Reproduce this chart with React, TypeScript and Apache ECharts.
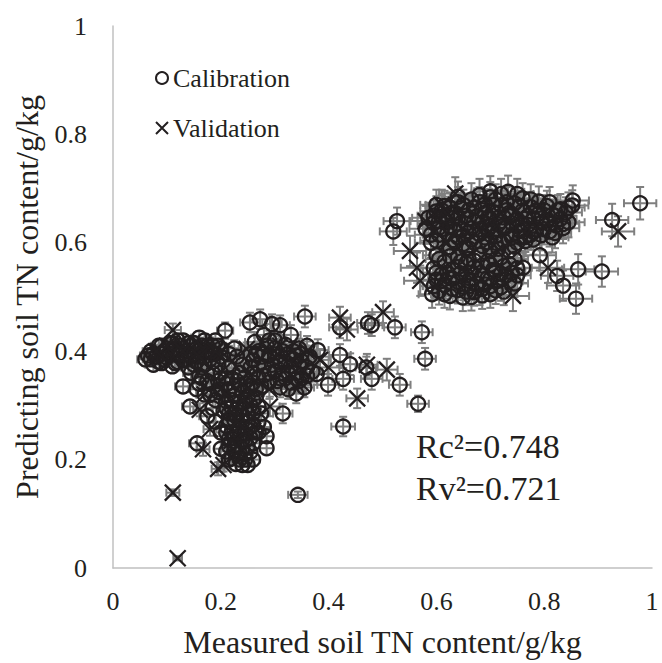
import React, { useEffect, useRef } from "react";
import * as echarts from "echarts";

// [measured, predicted, xError, yError]
const calibrationUpper: number[][] = [
  [0.733, 0.694, 0.03, 0.03], [0.70, 0.684, 0.03, 0.028], [0.665, 0.680, 0.03, 0.03], [0.76, 0.682, 0.03, 0.028],
  [0.79, 0.676, 0.03, 0.028], [0.853, 0.678, 0.03, 0.028], [0.852, 0.669, 0.03, 0.028], [0.64, 0.675, 0.03, 0.028],
  [0.68, 0.688, 0.03, 0.03], [0.615, 0.668, 0.03, 0.028], [0.645, 0.664, 0.03, 0.028], [0.69, 0.671, 0.03, 0.028],
  [0.72, 0.669, 0.03, 0.028], [0.745, 0.673, 0.03, 0.028], [0.775, 0.666, 0.03, 0.028], [0.805, 0.668, 0.03, 0.028],
  [0.83, 0.662, 0.03, 0.028], [0.60, 0.658, 0.03, 0.028], [0.628, 0.655, 0.03, 0.028], [0.66, 0.66, 0.03, 0.028],
  [0.705, 0.657, 0.03, 0.028], [0.735, 0.655, 0.03, 0.028], [0.76, 0.659, 0.03, 0.028], [0.79, 0.654, 0.03, 0.028],
  [0.815, 0.652, 0.03, 0.028], [0.84, 0.656, 0.03, 0.028], [0.585, 0.646, 0.03, 0.028], [0.612, 0.648, 0.03, 0.028],
  [0.64, 0.645, 0.03, 0.028], [0.675, 0.649, 0.03, 0.028], [0.70, 0.644, 0.03, 0.028], [0.725, 0.647, 0.03, 0.028],
  [0.75, 0.643, 0.03, 0.028], [0.78, 0.645, 0.03, 0.028], [0.805, 0.641, 0.03, 0.028], [0.83, 0.644, 0.03, 0.028],
  [0.527, 0.640, 0.025, 0.025], [0.595, 0.636, 0.03, 0.028], [0.62, 0.638, 0.03, 0.028], [0.655, 0.635, 0.03, 0.028],
  [0.685, 0.637, 0.03, 0.028], [0.715, 0.634, 0.03, 0.028], [0.74, 0.636, 0.03, 0.028], [0.77, 0.633, 0.03, 0.028],
  [0.795, 0.637, 0.03, 0.028], [0.822, 0.632, 0.03, 0.028], [0.845, 0.638, 0.03, 0.028], [0.58, 0.626, 0.03, 0.028],
  [0.605, 0.628, 0.03, 0.028], [0.635, 0.624, 0.03, 0.028], [0.665, 0.627, 0.03, 0.028], [0.695, 0.623, 0.03, 0.028],
  [0.725, 0.626, 0.03, 0.028], [0.755, 0.622, 0.03, 0.028], [0.785, 0.625, 0.03, 0.028], [0.81, 0.621, 0.03, 0.028],
  [0.835, 0.627, 0.03, 0.028], [0.52, 0.621, 0.025, 0.025], [0.59, 0.615, 0.03, 0.028], [0.62, 0.617, 0.03, 0.028],
  [0.65, 0.613, 0.03, 0.028], [0.68, 0.616, 0.03, 0.028], [0.71, 0.612, 0.03, 0.028], [0.74, 0.615, 0.03, 0.028],
  [0.765, 0.611, 0.03, 0.028], [0.795, 0.614, 0.03, 0.028], [0.82, 0.618, 0.03, 0.028], [0.60, 0.604, 0.03, 0.028],
  [0.635, 0.602, 0.03, 0.028], [0.665, 0.606, 0.03, 0.028], [0.695, 0.601, 0.03, 0.028], [0.725, 0.604, 0.03, 0.028],
  [0.75, 0.600, 0.03, 0.028], [0.78, 0.606, 0.03, 0.028], [0.625, 0.592, 0.03, 0.028], [0.655, 0.59, 0.03, 0.028],
  [0.685, 0.594, 0.03, 0.028], [0.715, 0.589, 0.03, 0.028], [0.745, 0.593, 0.03, 0.028], [0.765, 0.603, 0.03, 0.028],
  [0.61, 0.66, 0.03, 0.028], [0.65, 0.67, 0.03, 0.028], [0.71, 0.68, 0.03, 0.028], [0.73, 0.66, 0.03, 0.028],
  [0.77, 0.65, 0.03, 0.028], [0.80, 0.66, 0.03, 0.028], [0.63, 0.645, 0.03, 0.028], [0.69, 0.655, 0.03, 0.028],
  [0.75, 0.63, 0.03, 0.028], [0.72, 0.64, 0.03, 0.028], [0.66, 0.62, 0.03, 0.028], [0.70, 0.63, 0.03, 0.028],
  [0.78, 0.62, 0.03, 0.028], [0.64, 0.61, 0.03, 0.028], [0.81, 0.635, 0.03, 0.028], [0.74, 0.61, 0.03, 0.028],
  [0.59, 0.60, 0.03, 0.028],
  [0.595, 0.65, 0.03, 0.028], [0.605, 0.64, 0.03, 0.028], [0.625, 0.665, 0.03, 0.028], [0.635, 0.655, 0.03, 0.028],
  [0.655, 0.65, 0.03, 0.028], [0.67, 0.665, 0.03, 0.028], [0.685, 0.66, 0.03, 0.028], [0.695, 0.645, 0.03, 0.028],
  [0.705, 0.67, 0.03, 0.028], [0.715, 0.655, 0.03, 0.028], [0.73, 0.675, 0.03, 0.028], [0.74, 0.65, 0.03, 0.028],
  [0.755, 0.668, 0.03, 0.028], [0.765, 0.645, 0.03, 0.028], [0.775, 0.68, 0.03, 0.028], [0.785, 0.66, 0.03, 0.028],
  [0.795, 0.645, 0.03, 0.028], [0.81, 0.675, 0.03, 0.028], [0.82, 0.65, 0.03, 0.028], [0.835, 0.635, 0.03, 0.028],
  [0.61, 0.625, 0.03, 0.028], [0.625, 0.63, 0.03, 0.028], [0.645, 0.625, 0.03, 0.028], [0.67, 0.64, 0.03, 0.028],
  [0.69, 0.63, 0.03, 0.028], [0.705, 0.62, 0.03, 0.028], [0.73, 0.63, 0.03, 0.028], [0.76, 0.635, 0.03, 0.028],
  [0.775, 0.615, 0.03, 0.028], [0.80, 0.625, 0.03, 0.028], [0.815, 0.61, 0.03, 0.028], [0.605, 0.615, 0.03, 0.028],
  [0.63, 0.605, 0.03, 0.028], [0.67, 0.60, 0.03, 0.028], [0.69, 0.61, 0.03, 0.028], [0.72, 0.60, 0.03, 0.028],
  [0.755, 0.61, 0.03, 0.028], [0.68, 0.675, 0.03, 0.028], [0.72, 0.69, 0.03, 0.028], [0.75, 0.69, 0.03, 0.028],
  [0.62, 0.65, 0.03, 0.028], [0.66, 0.645, 0.03, 0.028], [0.68, 0.625, 0.03, 0.028], [0.76, 0.625, 0.03, 0.028],
  [0.825, 0.66, 0.03, 0.028], [0.845, 0.665, 0.03, 0.028], [0.60, 0.67, 0.03, 0.028], [0.64, 0.685, 0.03, 0.028],
  [0.70, 0.695, 0.03, 0.028], [0.71, 0.60, 0.03, 0.028], [0.66, 0.59, 0.03, 0.028], [0.735, 0.585, 0.03, 0.028],
  [0.70, 0.585, 0.03, 0.028], [0.65, 0.598, 0.03, 0.028],
  [0.792, 0.577, 0.03, 0.028], [0.761, 0.554, 0.03, 0.028], [0.824, 0.539, 0.03, 0.028], [0.835, 0.521, 0.03, 0.028],
  [0.859, 0.497, 0.03, 0.028], [0.863, 0.551, 0.03, 0.028], [0.907, 0.547, 0.03, 0.028], [0.926, 0.642, 0.03, 0.03],
  [0.978, 0.673, 0.03, 0.03],
];

const calibrationLower: number[][] = [
  [0.60, 0.577, 0.025, 0.025], [0.64, 0.574, 0.025, 0.025], [0.68, 0.578, 0.025, 0.025], [0.72, 0.573, 0.025, 0.025],
  [0.745, 0.57, 0.025, 0.025], [0.615, 0.565, 0.025, 0.025], [0.655, 0.562, 0.025, 0.025], [0.695, 0.566, 0.025, 0.025],
  [0.735, 0.561, 0.025, 0.025], [0.595, 0.553, 0.025, 0.025], [0.63, 0.551, 0.025, 0.025], [0.67, 0.555, 0.025, 0.025],
  [0.705, 0.55, 0.025, 0.025], [0.75, 0.553, 0.025, 0.025], [0.61, 0.542, 0.025, 0.025], [0.645, 0.544, 0.025, 0.025],
  [0.685, 0.54, 0.025, 0.025], [0.72, 0.543, 0.025, 0.025], [0.60, 0.532, 0.025, 0.025], [0.63, 0.534, 0.025, 0.025],
  [0.66, 0.53, 0.025, 0.025], [0.70, 0.533, 0.025, 0.025], [0.735, 0.529, 0.025, 0.025], [0.615, 0.522, 0.025, 0.025],
  [0.65, 0.519, 0.025, 0.025], [0.69, 0.523, 0.025, 0.025], [0.72, 0.518, 0.025, 0.025], [0.605, 0.511, 0.025, 0.025],
  [0.64, 0.513, 0.025, 0.025], [0.67, 0.509, 0.025, 0.025], [0.71, 0.512, 0.025, 0.025], [0.592, 0.505, 0.025, 0.025],
  [0.649, 0.499, 0.025, 0.025], [0.625, 0.502, 0.025, 0.025], [0.685, 0.503, 0.025, 0.025], [0.62, 0.545, 0.025, 0.025],
  [0.66, 0.57, 0.025, 0.025], [0.70, 0.56, 0.025, 0.025], [0.675, 0.525, 0.025, 0.025], [0.64, 0.528, 0.025, 0.025],
  [0.71, 0.548, 0.025, 0.025], [0.655, 0.54, 0.025, 0.025],
  [0.605, 0.57, 0.025, 0.025], [0.625, 0.575, 0.025, 0.025], [0.645, 0.565, 0.025, 0.025], [0.67, 0.567, 0.025, 0.025],
  [0.685, 0.558, 0.025, 0.025], [0.71, 0.57, 0.025, 0.025], [0.725, 0.557, 0.025, 0.025], [0.74, 0.545, 0.025, 0.025],
  [0.60, 0.545, 0.025, 0.025], [0.625, 0.535, 0.025, 0.025], [0.64, 0.555, 0.025, 0.025], [0.665, 0.545, 0.025, 0.025],
  [0.695, 0.535, 0.025, 0.025], [0.715, 0.53, 0.025, 0.025], [0.73, 0.54, 0.025, 0.025], [0.61, 0.53, 0.025, 0.025],
  [0.63, 0.515, 0.025, 0.025], [0.655, 0.51, 0.025, 0.025], [0.66, 0.52, 0.025, 0.025], [0.685, 0.515, 0.025, 0.025],
  [0.70, 0.52, 0.025, 0.025], [0.725, 0.51, 0.025, 0.025], [0.615, 0.505, 0.025, 0.025], [0.665, 0.50, 0.025, 0.025],
  [0.70, 0.505, 0.025, 0.025], [0.595, 0.52, 0.025, 0.025], [0.745, 0.525, 0.025, 0.025], [0.75, 0.54, 0.025, 0.025],
];

const calibrationMiddle: number[][] = [
  [0.356, 0.464, 0.02, 0.02], [0.421, 0.444, 0.02, 0.02], [0.473, 0.452, 0.02, 0.02], [0.48, 0.448, 0.02, 0.02],
  [0.523, 0.444, 0.02, 0.02], [0.573, 0.435, 0.02, 0.02], [0.579, 0.386, 0.02, 0.02], [0.566, 0.303, 0.02, 0.015],
  [0.427, 0.261, 0.022, 0.018], [0.343, 0.135, 0.018, 0.006], [0.38, 0.402, 0.02, 0.02], [0.421, 0.393, 0.02, 0.02],
  [0.44, 0.376, 0.02, 0.02], [0.48, 0.349, 0.02, 0.02], [0.427, 0.349, 0.02, 0.02], [0.399, 0.338, 0.02, 0.02],
  [0.532, 0.338, 0.02, 0.02], [0.315, 0.285, 0.018, 0.018], [0.378, 0.358, 0.02, 0.02], [0.47, 0.37, 0.02, 0.02],
  [0.273, 0.459, 0.018, 0.018], [0.295, 0.45, 0.018, 0.018], [0.31, 0.448, 0.018, 0.018], [0.263, 0.417, 0.018, 0.018],
  [0.208, 0.438, 0.015, 0.015], [0.254, 0.453, 0.018, 0.018],
  [0.27, 0.40, 0.018, 0.018], [0.29, 0.392, 0.018, 0.018], [0.31, 0.38, 0.018, 0.018], [0.33, 0.372, 0.018, 0.018],
  [0.30, 0.362, 0.018, 0.018], [0.32, 0.35, 0.018, 0.018], [0.34, 0.36, 0.018, 0.018], [0.35, 0.382, 0.018, 0.018],
  [0.36, 0.37, 0.018, 0.018], [0.28, 0.372, 0.018, 0.018], [0.30, 0.405, 0.018, 0.018], [0.32, 0.412, 0.018, 0.018],
  [0.34, 0.392, 0.018, 0.018], [0.31, 0.333, 0.018, 0.018], [0.33, 0.342, 0.018, 0.018], [0.35, 0.35, 0.018, 0.018],
  [0.27, 0.352, 0.018, 0.018], [0.29, 0.343, 0.018, 0.018], [0.26, 0.383, 0.018, 0.018], [0.355, 0.333, 0.018, 0.018],
  [0.34, 0.322, 0.018, 0.018], [0.37, 0.362, 0.018, 0.018], [0.30, 0.42, 0.018, 0.018], [0.28, 0.43, 0.018, 0.018],
  [0.325, 0.395, 0.018, 0.018], [0.345, 0.405, 0.018, 0.018], [0.26, 0.36, 0.018, 0.018], [0.285, 0.41, 0.018, 0.018],
  [0.315, 0.36, 0.018, 0.018], [0.365, 0.39, 0.018, 0.018], [0.33, 0.43, 0.018, 0.018], [0.36, 0.41, 0.018, 0.018],
  [0.275, 0.39, 0.018, 0.018], [0.295, 0.375, 0.018, 0.018], [0.305, 0.39, 0.018, 0.018], [0.315, 0.40, 0.018, 0.018],
  [0.335, 0.385, 0.018, 0.018], [0.345, 0.375, 0.018, 0.018], [0.325, 0.36, 0.018, 0.018], [0.31, 0.35, 0.018, 0.018],
  [0.29, 0.36, 0.018, 0.018], [0.27, 0.375, 0.018, 0.018], [0.28, 0.395, 0.018, 0.018], [0.29, 0.42, 0.018, 0.018],
  [0.305, 0.345, 0.018, 0.018], [0.325, 0.33, 0.018, 0.018], [0.345, 0.345, 0.018, 0.018], [0.36, 0.355, 0.018, 0.018],
  [0.28, 0.355, 0.018, 0.018], [0.265, 0.395, 0.018, 0.018], [0.255, 0.37, 0.018, 0.018], [0.335, 0.40, 0.018, 0.018],
  [0.35, 0.395, 0.018, 0.018], [0.32, 0.38, 0.018, 0.018], [0.34, 0.35, 0.018, 0.018], [0.275, 0.335, 0.018, 0.018],
  [0.215, 0.37, 0.015, 0.015], [0.23, 0.39, 0.015, 0.015], [0.24, 0.375, 0.015, 0.015], [0.255, 0.395, 0.015, 0.015],
  [0.235, 0.36, 0.015, 0.015], [0.215, 0.395, 0.015, 0.015], [0.225, 0.405, 0.015, 0.015],
];

const calibrationLeft: number[][] = [
  [0.06, 0.385, 0.015, 0.012], [0.07, 0.40, 0.015, 0.012], [0.08, 0.39, 0.015, 0.012], [0.085, 0.41, 0.015, 0.012],
  [0.09, 0.378, 0.015, 0.012], [0.095, 0.40, 0.015, 0.012], [0.10, 0.388, 0.015, 0.012], [0.105, 0.415, 0.015, 0.012],
  [0.11, 0.40, 0.015, 0.012], [0.115, 0.378, 0.015, 0.012], [0.12, 0.392, 0.015, 0.012], [0.125, 0.41, 0.015, 0.012],
  [0.13, 0.383, 0.015, 0.012], [0.135, 0.40, 0.015, 0.012], [0.14, 0.415, 0.015, 0.012], [0.145, 0.39, 0.015, 0.012],
  [0.15, 0.375, 0.015, 0.012], [0.155, 0.405, 0.015, 0.012], [0.16, 0.39, 0.015, 0.012], [0.165, 0.41, 0.015, 0.012],
  [0.17, 0.375, 0.015, 0.012], [0.175, 0.398, 0.015, 0.012], [0.18, 0.385, 0.015, 0.012], [0.185, 0.41, 0.015, 0.012],
  [0.19, 0.395, 0.015, 0.012], [0.195, 0.375, 0.015, 0.012], [0.20, 0.39, 0.015, 0.012], [0.12, 0.42, 0.015, 0.012],
  [0.16, 0.425, 0.015, 0.012], [0.19, 0.42, 0.015, 0.012], [0.075, 0.375, 0.015, 0.012], [0.065, 0.392, 0.015, 0.012],
  [0.14, 0.37, 0.015, 0.012], [0.11, 0.372, 0.015, 0.012], [0.20, 0.405, 0.015, 0.012],
  [0.07, 0.385, 0.015, 0.012], [0.075, 0.395, 0.015, 0.012], [0.085, 0.38, 0.015, 0.012], [0.09, 0.395, 0.015, 0.012],
  [0.095, 0.385, 0.015, 0.012], [0.10, 0.405, 0.015, 0.012], [0.105, 0.395, 0.015, 0.012], [0.115, 0.405, 0.015, 0.012],
  [0.12, 0.38, 0.015, 0.012], [0.125, 0.395, 0.015, 0.012], [0.13, 0.405, 0.015, 0.012], [0.135, 0.385, 0.015, 0.012],
  [0.14, 0.395, 0.015, 0.012], [0.145, 0.41, 0.015, 0.012], [0.15, 0.395, 0.015, 0.012], [0.155, 0.38, 0.015, 0.012],
  [0.16, 0.405, 0.015, 0.012], [0.17, 0.39, 0.015, 0.012], [0.175, 0.41, 0.015, 0.012], [0.18, 0.40, 0.015, 0.012],
  [0.185, 0.38, 0.015, 0.012], [0.09, 0.41, 0.015, 0.012], [0.11, 0.415, 0.015, 0.012], [0.13, 0.42, 0.015, 0.012],
  [0.15, 0.415, 0.015, 0.012], [0.17, 0.42, 0.015, 0.012], [0.185, 0.395, 0.015, 0.012], [0.195, 0.41, 0.015, 0.012],
  [0.165, 0.37, 0.015, 0.012], [0.185, 0.36, 0.015, 0.012], [0.175, 0.345, 0.015, 0.012], [0.195, 0.345, 0.015, 0.012],
  [0.16, 0.34, 0.015, 0.012], [0.18, 0.32, 0.015, 0.012], [0.195, 0.325, 0.015, 0.012],
  [0.13, 0.335, 0.015, 0.012], [0.143, 0.298, 0.015, 0.012], [0.155, 0.33, 0.015, 0.012], [0.165, 0.35, 0.015, 0.012],
  [0.17, 0.32, 0.015, 0.012], [0.18, 0.34, 0.015, 0.012], [0.19, 0.31, 0.015, 0.012], [0.185, 0.295, 0.015, 0.012],
  [0.20, 0.33, 0.015, 0.012], [0.20, 0.36, 0.015, 0.012], [0.21, 0.35, 0.015, 0.012], [0.156, 0.23, 0.015, 0.012],
  [0.175, 0.28, 0.015, 0.012], [0.19, 0.27, 0.015, 0.012], [0.16, 0.355, 0.015, 0.012], [0.145, 0.36, 0.015, 0.012],
];

const calibrationColumn: number[][] = [
  [0.22, 0.35, 0.012, 0.012], [0.245, 0.352, 0.012, 0.012], [0.21, 0.34, 0.012, 0.012], [0.235, 0.338, 0.012, 0.012],
  [0.26, 0.342, 0.012, 0.012], [0.215, 0.328, 0.012, 0.012], [0.24, 0.325, 0.012, 0.012], [0.265, 0.33, 0.012, 0.012],
  [0.225, 0.318, 0.012, 0.012], [0.25, 0.315, 0.012, 0.012], [0.21, 0.308, 0.012, 0.012], [0.235, 0.305, 0.012, 0.012],
  [0.26, 0.31, 0.012, 0.012], [0.22, 0.296, 0.012, 0.012], [0.245, 0.294, 0.012, 0.012], [0.27, 0.298, 0.012, 0.012],
  [0.215, 0.285, 0.012, 0.012], [0.24, 0.282, 0.012, 0.012], [0.26, 0.286, 0.012, 0.012], [0.225, 0.273, 0.012, 0.012],
  [0.25, 0.271, 0.012, 0.012], [0.21, 0.262, 0.012, 0.012], [0.235, 0.26, 0.012, 0.012], [0.26, 0.264, 0.012, 0.012],
  [0.22, 0.25, 0.012, 0.012], [0.245, 0.248, 0.012, 0.012], [0.215, 0.238, 0.012, 0.012], [0.24, 0.236, 0.012, 0.012],
  [0.255, 0.24, 0.012, 0.012], [0.225, 0.226, 0.012, 0.012], [0.25, 0.224, 0.012, 0.012], [0.21, 0.215, 0.012, 0.012],
  [0.235, 0.212, 0.012, 0.012], [0.255, 0.214, 0.012, 0.012], [0.22, 0.202, 0.012, 0.012], [0.245, 0.20, 0.012, 0.012],
  [0.228, 0.192, 0.012, 0.012], [0.25, 0.19, 0.012, 0.012], [0.285, 0.243, 0.012, 0.012], [0.285, 0.221, 0.012, 0.012],
  [0.28, 0.26, 0.012, 0.012], [0.27, 0.25, 0.012, 0.012], [0.23, 0.21, 0.012, 0.012], [0.20, 0.22, 0.012, 0.012],
  [0.205, 0.29, 0.012, 0.012], [0.20, 0.25, 0.012, 0.012],
  [0.23, 0.345, 0.012, 0.012], [0.255, 0.335, 0.012, 0.012], [0.225, 0.33, 0.012, 0.012], [0.25, 0.33, 0.012, 0.012],
  [0.22, 0.31, 0.012, 0.012], [0.245, 0.31, 0.012, 0.012], [0.23, 0.295, 0.012, 0.012], [0.255, 0.30, 0.012, 0.012],
  [0.225, 0.285, 0.012, 0.012], [0.25, 0.285, 0.012, 0.012], [0.23, 0.28, 0.012, 0.012], [0.215, 0.27, 0.012, 0.012],
  [0.24, 0.27, 0.012, 0.012], [0.255, 0.26, 0.012, 0.012], [0.23, 0.25, 0.012, 0.012], [0.21, 0.25, 0.012, 0.012],
  [0.235, 0.245, 0.012, 0.012], [0.25, 0.255, 0.012, 0.012], [0.225, 0.24, 0.012, 0.012], [0.245, 0.235, 0.012, 0.012],
  [0.23, 0.225, 0.012, 0.012], [0.215, 0.225, 0.012, 0.012], [0.24, 0.22, 0.012, 0.012], [0.26, 0.23, 0.012, 0.012],
  [0.225, 0.215, 0.012, 0.012], [0.245, 0.21, 0.012, 0.012], [0.235, 0.20, 0.012, 0.012], [0.215, 0.20, 0.012, 0.012],
  [0.24, 0.19, 0.012, 0.012], [0.26, 0.20, 0.012, 0.012], [0.265, 0.25, 0.012, 0.012], [0.27, 0.27, 0.012, 0.012],
  [0.265, 0.315, 0.012, 0.012], [0.275, 0.285, 0.012, 0.012], [0.21, 0.295, 0.012, 0.012], [0.215, 0.275, 0.012, 0.012],
];

const validationPoints: number[][] = [
  [0.635, 0.691, 0.03, 0.03], [0.551, 0.585, 0.03, 0.028], [0.564, 0.554, 0.03, 0.028], [0.57, 0.53, 0.03, 0.028],
  [0.742, 0.502, 0.03, 0.028], [0.807, 0.554, 0.03, 0.028], [0.937, 0.621, 0.03, 0.028], [0.58, 0.64, 0.03, 0.028],
  [0.62, 0.60, 0.03, 0.028], [0.60, 0.52, 0.025, 0.025], [0.70, 0.62, 0.03, 0.028], [0.66, 0.54, 0.025, 0.025],
  [0.75, 0.66, 0.03, 0.028], [0.68, 0.51, 0.025, 0.025], [0.61, 0.67, 0.03, 0.028],
  [0.421, 0.462, 0.02, 0.02], [0.434, 0.44, 0.02, 0.02], [0.501, 0.472, 0.02, 0.02], [0.384, 0.384, 0.02, 0.02],
  [0.471, 0.375, 0.02, 0.02], [0.508, 0.366, 0.02, 0.02], [0.453, 0.313, 0.02, 0.018], [0.30, 0.39, 0.018, 0.018],
  [0.33, 0.38, 0.018, 0.018], [0.35, 0.34, 0.018, 0.018], [0.29, 0.33, 0.018, 0.018], [0.31, 0.41, 0.018, 0.018],
  [0.36, 0.40, 0.018, 0.018], [0.291, 0.298, 0.018, 0.018], [0.40, 0.37, 0.02, 0.02],
  [0.195, 0.183, 0.012, 0.012], [0.205, 0.19, 0.012, 0.012], [0.167, 0.219, 0.012, 0.012], [0.18, 0.256, 0.012, 0.012],
  [0.161, 0.292, 0.012, 0.012], [0.23, 0.27, 0.012, 0.012], [0.24, 0.31, 0.012, 0.012], [0.22, 0.235, 0.012, 0.012],
  [0.25, 0.33, 0.012, 0.012], [0.21, 0.32, 0.012, 0.012], [0.26, 0.28, 0.012, 0.012],
  [0.111, 0.439, 0.015, 0.012], [0.10, 0.41, 0.015, 0.012], [0.13, 0.40, 0.015, 0.012], [0.20, 0.40, 0.015, 0.012],
  [0.22, 0.38, 0.015, 0.012], [0.248, 0.404, 0.015, 0.012], [0.25, 0.36, 0.015, 0.012], [0.20, 0.33, 0.015, 0.012],
  [0.17, 0.32, 0.015, 0.012], [0.16, 0.39, 0.015, 0.012], [0.08, 0.40, 0.015, 0.012], [0.19, 0.40, 0.015, 0.012],
  [0.111, 0.139, 0.012, 0.006], [0.12, 0.018, 0.008, 0.004],
];

const axisTicks = [0, 0.2, 0.4, 0.6, 0.8, 1];
const rcText = "Rc²=0.748";
const rvText = "Rv²=0.721";

const calibrationPoints = [
  ...calibrationUpper,
  ...calibrationLower,
  ...calibrationMiddle,
  ...calibrationLeft,
  ...calibrationColumn,
];

const FONT = "'Liberation Serif', 'Times New Roman', serif";
const INK = "#231f20";
const ERR = "#7f7f7f";
const X_SYMBOL = "path://M0,0L10,10M10,0L0,10";

function errorRender(params: any, api: any) {
  const x = api.value(0);
  const y = api.value(1);
  const ex = api.value(2);
  const ey = api.value(3);
  const l = api.coord([x - ex, y]);
  const r = api.coord([x + ex, y]);
  const t = api.coord([x, y + ey]);
  const b = api.coord([x, y - ey]);
  const cap = 4;
  const style = { stroke: ERR, lineWidth: 2 };
  const line = (x1: number, y1: number, x2: number, y2: number) => ({
    type: "line",
    shape: { x1, y1, x2, y2 },
    style,
  });
  return {
    type: "group",
    children: [
      line(l[0], l[1], r[0], r[1]),
      line(l[0], l[1] - cap, l[0], l[1] + cap),
      line(r[0], r[1] - cap, r[0], r[1] + cap),
      line(t[0], t[1], b[0], b[1]),
      line(t[0] - cap, t[1], t[0] + cap, t[1]),
      line(b[0] - cap, b[1], b[0] + cap, b[1]),
    ],
  };
}

export default function App() {
  const ref = useRef<HTMLDivElement>(null);
  useEffect(() => {
    if (!ref.current) return;
    const chart = echarts.init(ref.current, undefined, { renderer: "svg" });
    const axisCommon = {
      type: "value",
      min: axisTicks[0],
      max: axisTicks[axisTicks.length - 1],
      interval: 0.2,
      nameLocation: "middle",
      nameTextStyle: { fontFamily: FONT, fontSize: 32, color: INK },
      axisLine: { show: true, lineStyle: { color: "#c0c0c0", width: 1.5 } },
      axisTick: { show: false },
      splitLine: { show: false },
      axisLabel: { fontFamily: FONT, fontSize: 26, color: INK },
    };
    chart.setOption({
      animation: false,
      backgroundColor: "#ffffff",
      grid: { left: 113, right: 10, top: 26, bottom: 90, containLabel: false },
      legend: {
        orient: "vertical",
        left: 150,
        top: 60,
        itemGap: 24,
        itemWidth: 12,
        itemHeight: 12,
        textStyle: { fontFamily: FONT, fontSize: 26, color: INK },
        data: ["Calibration", "Validation"],
      },
      xAxis: {
        ...axisCommon,
        name: "Measured soil TN content/g/kg",
        nameGap: 58,
        axisLabel: { ...axisCommon.axisLabel, margin: 20 },
      },
      yAxis: {
        ...axisCommon,
        name: "Predicting soil TN content/g/kg",
        nameGap: 70,
        axisLabel: { ...axisCommon.axisLabel, margin: 26 },
      },
      graphic: [
        {
          type: "text",
          left: 416,
          top: 429,
          style: { text: rcText, fontFamily: FONT, fontSize: 34, fill: INK },
        },
        {
          type: "text",
          left: 416,
          top: 471,
          style: { text: rvText, fontFamily: FONT, fontSize: 34, fill: INK },
        },
      ],
      series: [
        {
          type: "custom",
          name: "calErr",
          renderItem: errorRender,
          data: calibrationPoints,
          encode: { x: 0, y: 1 },
          z: 1,
          silent: true,
        },
        {
          type: "custom",
          name: "valErr",
          renderItem: errorRender,
          data: validationPoints,
          encode: { x: 0, y: 1 },
          z: 1,
          silent: true,
        },
        {
          type: "scatter",
          name: "Calibration",
          symbol: "circle",
          symbolSize: 14,
          data: calibrationPoints.map((p) => [p[0], p[1]]),
          itemStyle: { color: "rgba(255,255,255,0)", borderColor: INK, borderWidth: 2.3, opacity: 1 },
          z: 3,
        },
        {
          type: "scatter",
          name: "Validation",
          symbol: X_SYMBOL,
          symbolSize: 16,
          data: validationPoints.map((p) => [p[0], p[1]]),
          itemStyle: { color: "rgba(255,255,255,0)", borderColor: INK, borderWidth: 2.3, opacity: 1 },
          z: 4,
        },
      ],
    });
    return () => chart.dispose();
  }, []);
  return <div ref={ref} style={{ width: 662, height: 663, position: "absolute", left: 0, top: 0 }} />;
}
